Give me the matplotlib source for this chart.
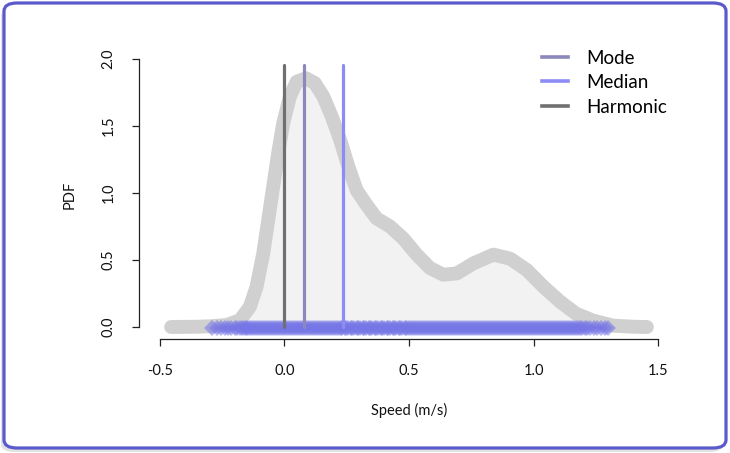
import matplotlib
matplotlib.use("Agg")
import matplotlib.pyplot as plt
from matplotlib.patches import FancyBboxPatch
from matplotlib.lines import Line2D

# ---- data ----
dens_x = [-0.455, -0.35, -0.29, -0.232, -0.179, -0.139, -0.112, -0.085, -0.065, -0.045,
          -0.025, -0.005, 0.022, 0.049, 0.086, 0.122, 0.156, 0.19, 0.223, 0.256,
          0.29, 0.33, 0.37, 0.424, 0.477, 0.531, 0.584, 0.638, 0.692, 0.759,
          0.839, 0.906, 0.973, 1.04, 1.106, 1.17, 1.24, 1.32, 1.40, 1.455]
dens_y = [0.0, 0.002, 0.006, 0.015, 0.05, 0.15, 0.30, 0.55, 0.80, 1.05,
          1.30, 1.52, 1.72, 1.83, 1.856, 1.82, 1.72, 1.57, 1.40, 1.20,
          1.02, 0.91, 0.81, 0.75, 0.66, 0.54, 0.44, 0.39, 0.40, 0.475,
          0.54, 0.51, 0.425, 0.30, 0.19, 0.10, 0.047, 0.01, 0.002, 0.0]

rug_x = [-0.290, -0.272, -0.255, -0.240, -0.226, -0.213, -0.200, -0.189, -0.179, -0.170,
         -0.163, -0.156,
         -0.150, -0.142, -0.135, -0.127, -0.118, -0.111, -0.103, -0.094, -0.087, -0.079,
         -0.070, -0.063, -0.055, -0.046, -0.039, -0.031, -0.022, -0.015, -0.007, 0.002,
         0.009, 0.017, 0.026, 0.033, 0.041, 0.050, 0.057, 0.065, 0.074, 0.081,
         0.089, 0.098, 0.105, 0.113, 0.122, 0.129, 0.137, 0.146, 0.153, 0.161,
         0.170, 0.177, 0.185, 0.194, 0.201, 0.209, 0.218, 0.225, 0.233, 0.242,
         0.249, 0.257, 0.266, 0.273, 0.281, 0.290, 0.297, 0.305, 0.314, 0.321,
         0.329, 0.338, 0.345, 0.353, 0.362, 0.369, 0.377, 0.386, 0.393, 0.401,
         0.410, 0.417, 0.425, 0.434, 0.441, 0.449, 0.458, 0.465, 0.473, 0.482,
         0.489, 0.497, 0.506, 0.513, 0.521, 0.530, 0.537, 0.545, 0.554, 0.561,
         0.569, 0.578, 0.585, 0.593, 0.602, 0.609, 0.617, 0.626, 0.633, 0.641,
         0.650, 0.657, 0.665, 0.674, 0.681, 0.689, 0.698, 0.705, 0.713, 0.722,
         0.729, 0.737, 0.746, 0.753, 0.761, 0.770, 0.777, 0.785, 0.794, 0.801,
         0.809, 0.818, 0.825, 0.833, 0.842, 0.849, 0.857, 0.866, 0.873, 0.881,
         0.890, 0.897, 0.905, 0.914, 0.921, 0.929, 0.938, 0.945, 0.953, 0.962,
         0.969, 0.977, 0.986, 0.993, 1.001, 1.010, 1.017, 1.025, 1.034, 1.041,
         1.049, 1.058, 1.065, 1.073, 1.082, 1.089, 1.097, 1.106, 1.113, 1.121,
         1.130, 1.137, 1.145, 1.154, 1.161, 1.170,
         1.178, 1.186, 1.195, 1.205, 1.216, 1.228, 1.241, 1.255, 1.270, 1.286, 1.300]

stat_names = ["Mode", "Median", "Harmonic"]
stat_values = [0.08, 0.235, 0.0]
stat_colors = ["#8b88bb", "#8c8cf4", "#707070"]
stat_top = 1.955

xticks = [-0.5, 0.0, 0.5, 1.0, 1.5]
xtick_labels = ["-0.5", "0.0", "0.5", "1.0", "1.5"]
yticks = [0.0, 0.5, 1.0, 1.5, 2.0]
ytick_labels = ["0.0", "0.5", "1.0", "1.5", "2.0"]

# ---- figure ----
plt.rcParams['font.family'] = ['Lato', 'DejaVu Sans']
W, H = 730, 453
fig = plt.figure(figsize=(W / 100, H / 100), dpi=100)
fig.patch.set_facecolor("white")

# frame with shadow
shadow = FancyBboxPatch((1 / W, (H - 452) / H), 722 / W, 444 / H,
                        boxstyle="round,pad=0,rounding_size=0.018",
                        transform=fig.transFigure, facecolor="#e2e2e2",
                        edgecolor="none", zorder=0)
frame = FancyBboxPatch((4 / W, (H - 448) / H), 722 / W, 445 / H,
                       boxstyle="round,pad=0,rounding_size=0.018",
                       transform=fig.transFigure, facecolor="white",
                       edgecolor="#5a5acc", linewidth=2.3, zorder=1)
fig.patches.extend([shadow, frame])

ax = fig.add_axes([139 / W, (H - 339) / H, 540 / W, 289 / H])
ax.set_facecolor("none")
ax.set_zorder(2)
ax.set_xlim(-0.584, 1.584)
ax.set_ylim(-0.0896, 2.067)

ax.fill_between(dens_x, dens_y, 0, color="#f2f2f2", zorder=1, linewidth=0)
ax.plot(dens_x, dens_y, color="#d0d0d0", linewidth=10, solid_capstyle="round",
        solid_joinstyle="round", zorder=2)

ax.plot(rug_x, [-0.01] * len(rug_x), linestyle="none", marker="D", markersize=8,
        markeredgewidth=0, color="#7676e6", alpha=0.55, zorder=3)

handles = []
for name, v, c in zip(stat_names, stat_values, stat_colors):
    ax.plot([v, v], [0, stat_top], color=c, linewidth=2.3, solid_capstyle="round", zorder=4)
    handles.append(Line2D([], [], color=c, linewidth=2.6))

leg = ax.legend(handles, stat_names, loc="upper left", bbox_to_anchor=(0.715, 1.06),
                frameon=False, fontsize=13.5, handlelength=1.4, handletextpad=0.95,
                labelspacing=0.4)

for s in ["top", "right"]:
    ax.spines[s].set_visible(False)
ax.spines["left"].set_bounds(0, 2)
ax.spines["bottom"].set_bounds(-0.5, 1.5)
for s in ["left", "bottom"]:
    ax.spines[s].set_color("#222222")
    ax.spines[s].set_linewidth(0.9)

ax.set_xticks(xticks)
ax.set_xticklabels(xtick_labels)
ax.set_yticks(yticks)
ax.set_yticklabels(ytick_labels, rotation=90, va="center")
ax.tick_params(axis="both", length=5, width=0.9, color="#222222", labelsize=10.5,
               labelcolor="#111111")
ax.tick_params(axis="x", pad=13)
ax.tick_params(axis="y", pad=12)

ax.set_xlabel("Speed (m/s)", fontsize=10.5, labelpad=18, color="#111111")
ax.set_ylabel("PDF", fontsize=10.5, labelpad=18, color="#111111")

fig.savefig("out.png", dpi=100)
